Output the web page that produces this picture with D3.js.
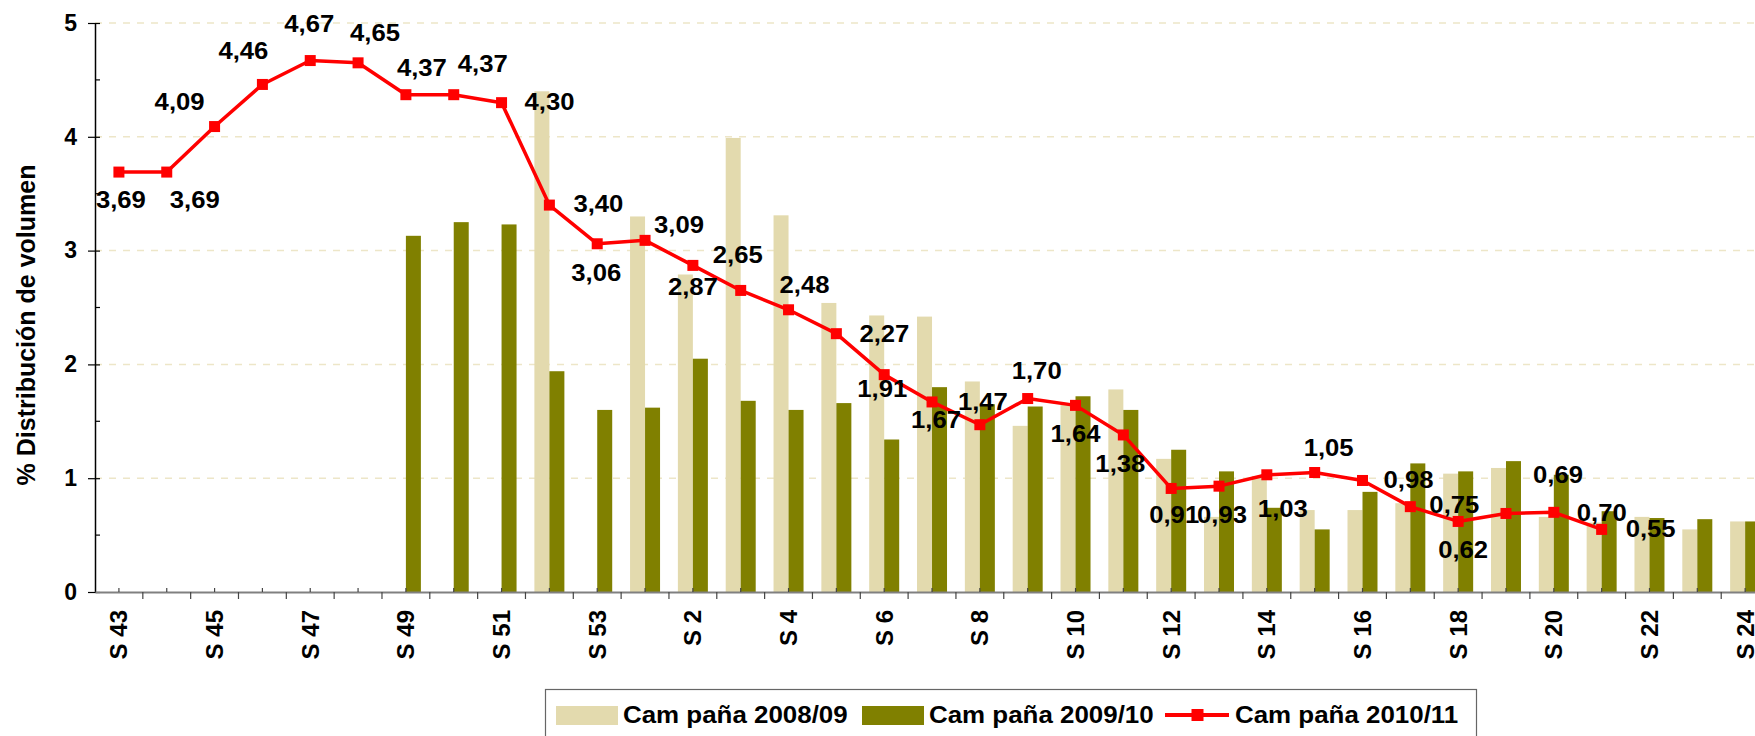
<!DOCTYPE html>
<meta charset="utf-8">
<div id="area"></div>

<script src="https://d3js.org/d3.v7.min.js"></script>

<style>
  body {
    background: #fff;
    margin: 0;
  }
  svg {
    display: block;
    font-family: "Liberation Sans", Arial, sans-serif;
    font-weight: bold;
  }
</style>

<script>
// weeks on the category axis (campaign runs S 43 -> S 24)
var weeks = ["S 43", "S 44", "S 45", "S 46", "S 47", "S 48", "S 49", "S 50", "S 51", "S 52", "S 53",
             "S 1", "S 2", "S 3", "S 4", "S 5", "S 6", "S 7", "S 8", "S 9", "S 10", "S 11", "S 12",
             "S 13", "S 14", "S 15", "S 16", "S 17", "S 18", "S 19", "S 20", "S 21", "S 22", "S 23", "S 24"];

var seriesNames = ["Cam paña 2008/09", "Cam paña 2009/10", "Cam paña 2010/11"];

// % volume per week, one value per entry in weeks (null = no data)
var c0809 = [null, null, null, null, null, null, null, null, null, 4.40, null,
             3.30, 2.79, 3.99, 3.31, 2.54, 2.43, 2.42, 1.85, 1.46, 1.65, 1.78, 1.17,
             0.66, 1.02, 0.72, 0.72, 0.78, 1.04, 1.09, 0.66, 0.61, 0.66, 0.55, 0.62];

var c0910 = [null, null, null, null, null, null, 3.13, 3.25, 3.23, 1.94, 1.60,
             1.62, 2.05, 1.68, 1.60, 1.66, 1.34, 1.80, 1.65, 1.63, 1.72, 1.60, 1.25,
             1.06, 0.74, 0.55, 0.88, 1.13, 1.06, 1.15, 1.03, 0.71, 0.65, 0.64, 0.62];

var c1011 = [3.69, 3.69, 4.09, 4.46, 4.67, 4.65, 4.37, 4.37, 4.30, 3.40, 3.06,
             3.09, 2.87, 2.65, 2.48, 2.27, 1.91, 1.67, 1.47, 1.70, 1.64, 1.38, 0.91,
             0.93, 1.03, 1.05, 0.98, 0.75, 0.62, 0.69, 0.70, 0.55, null, null, null];

var yTicks = [0, 1, 2, 3, 4, 5];

// where each 2010/11 data label sits relative to its marker
var labelOffsets = [[2, 27], [28, 27], [-35, -25], [-19, -34], [-1, -37], [17, -30], [16, -27], [29, -31],
                    [48, -1], [49, -2], [-1, 29], [34, -16], [0, 21], [-3, -36], [16, -25], [48, 0],
                    [-2, 14], [4, 17], [3, -23], [9, -28], [0, 28], [-3, 28], [3, 26], [3, 28],
                    [16, 34], [14, -25], [46, -1], [44, -2], [5, 28], [52, -39], [48, 0], [49, -1]];

var colors = ["#e3daae", "#808000", "#ff0000"];

var width = 1755, height = 736;
var left = 95, band = 47.83;
var stretch = 1.07; // the original text is drawn a little wide

var svg = d3.select("#area")
  .append("svg")
    .attr("width", width)
    .attr("height", height);

var x = d3.scaleBand()
  .domain(weeks)
  .range([left, left + band * weeks.length]);

var bw = x.bandwidth();

var xs = d3.scaleBand()
  .domain(["a", "b"])
  .range([bw / 2 - 15, bw / 2 + 15]);

var y = d3.scaleLinear().domain([0, 5]).range([592, 23]);

var fmt = d3.formatLocale({decimal: ",", thousands: ".", grouping: [3], currency: ["", ""]}).format(".2f");

// gridlines
svg.append("g")
  .selectAll("line")
  .data(yTicks.slice(1))
  .enter()
  .append("line")
    .attr("x1", left)
    .attr("x2", x.range()[1])
    .attr("y1", function(d) { return y(d); })
    .attr("y2", function(d) { return y(d); })
    .attr("stroke", "#ede6c8")
    .attr("stroke-width", 1.5)
    .attr("stroke-dasharray", "7,7");

// bars
var barData = [];
weeks.forEach(function(w, i) {
  if (c0809[i] != null) barData.push({week: w, k: "a", v: c0809[i]});
  if (c0910[i] != null) barData.push({week: w, k: "b", v: c0910[i]});
});

svg.append("g")
  .selectAll("rect")
  .data(barData)
  .enter()
  .append("rect")
    .attr("x", function(d) { return x(d.week) + xs(d.k); })
    .attr("y", function(d) { return y(d.v); })
    .attr("width", xs.bandwidth())
    .attr("height", function(d) { return y(0) - y(d.v); })
    .attr("fill", function(d) { return d.k == "a" ? colors[0] : colors[1]; });

// Y axis
var yAxis = svg.append("g")
  .attr("transform", "translate(" + left + ",0)")
  .call(d3.axisLeft(y).tickValues(yTicks).tickSize(7).tickSizeOuter(0).tickPadding(11).tickFormat(d3.format("d")));
yAxis.select(".domain").attr("stroke", "#000").attr("stroke-width", 1.5);
yAxis.selectAll(".tick line").attr("x1", 5).attr("stroke", "#000").attr("stroke-width", 1.2);
yAxis.selectAll(".tick text").style("font-size", "23px").attr("fill", "#000");
yAxis.selectAll(".minor")
  .data(d3.range(0.5, 5, 1))
  .enter()
  .append("line")
    .attr("x1", 0).attr("x2", 5)
    .attr("y1", function(d) { return y(d); })
    .attr("y2", function(d) { return y(d); })
    .attr("stroke", "#000")
    .attr("stroke-width", 1.2);

// X axis
var xAxis = svg.append("g")
  .attr("transform", "translate(0," + y(0) + ")")
  .call(d3.axisBottom(x).tickSize(-4).tickSizeOuter(0)
    .tickFormat(function(d, i) { return i % 2 == 0 ? d : ""; }));
xAxis.select(".domain").attr("stroke", "#808080").attr("stroke-width", 2.2);
xAxis.selectAll(".tick line").attr("stroke", "#444").attr("stroke-width", 1.2);
xAxis.selectAll(".tick text")
  .attr("transform", "rotate(-90)")
  .attr("x", -18)
  .attr("y", 0)
  .attr("dy", "0.35em")
  .style("text-anchor", "end")
  .style("font-size", "24px")
  .attr("fill", "#000");
xAxis.selectAll(".bound")
  .data(weeks.slice(1))
  .enter()
  .append("line")
    .attr("x1", function(d) { return x(d); })
    .attr("x2", function(d) { return x(d); })
    .attr("y1", 0).attr("y2", 7)
    .attr("stroke", "#444")
    .attr("stroke-width", 1.2);

// 2010/11 line
var pts = [];
c1011.forEach(function(v, i) { if (v != null) pts.push({week: weeks[i], v: v, i: i}); });

var line = d3.line()
  .x(function(d) { return x(d.week) + bw / 2; })
  .y(function(d) { return y(d.v); });

svg.append("path")
  .datum(pts)
  .attr("d", line)
  .attr("fill", "none")
  .attr("stroke", colors[2])
  .attr("stroke-width", 3.5)
  .attr("stroke-linejoin", "round");

svg.append("g")
  .selectAll("rect")
  .data(pts)
  .enter()
  .append("rect")
    .attr("x", function(d) { return x(d.week) + bw / 2 - 5.5; })
    .attr("y", function(d) { return y(d.v) - 5.5; })
    .attr("width", 11)
    .attr("height", 11)
    .attr("fill", colors[2]);

svg.append("g")
  .selectAll("text")
  .data(pts)
  .enter()
  .append("text")
    .attr("transform", function(d) {
      var tx = x(d.week) + bw / 2 + labelOffsets[d.i][0];
      var ty = y(d.v) + labelOffsets[d.i][1];
      return "translate(" + tx + "," + ty + ") scale(" + stretch + ",1)";
    })
    .attr("dy", "0.36em")
    .attr("text-anchor", "middle")
    .style("font-size", "24px")
    .text(function(d) { return fmt(d.v); });

// y title
svg.append("text")
  .attr("transform", "translate(26,325) rotate(-90)")
  .attr("dy", "0.35em")
  .attr("text-anchor", "middle")
  .style("font-size", "25px")
  .text("% Distribución de volumen");

// legend
var legend = svg.append("g");
legend.append("rect")
  .attr("x", 545.5).attr("y", 689.5)
  .attr("width", 931).attr("height", 70)
  .attr("fill", "#fff")
  .attr("stroke", "#666")
  .attr("stroke-width", 1.2);

var legendX = [556, 862, 1165];
var items = legend.selectAll(".item")
  .data(seriesNames)
  .enter()
  .append("g")
    .attr("transform", function(d, i) { return "translate(" + legendX[i] + ",0)"; });

items.filter(function(d, i) { return i < 2; })
  .append("rect")
    .attr("x", 0).attr("y", 706)
    .attr("width", 62).attr("height", 19)
    .attr("fill", function(d, i) { return colors[i]; });

var lineItem = items.filter(function(d, i) { return i == 2; });
lineItem.append("line")
  .attr("x1", 0).attr("x2", 64)
  .attr("y1", 715).attr("y2", 715)
  .attr("stroke", colors[2]).attr("stroke-width", 4);
lineItem.append("rect")
  .attr("x", 26.5).attr("y", 709)
  .attr("width", 12).attr("height", 12)
  .attr("fill", colors[2]);

items.append("text")
  .attr("transform", function(d, i) { return "translate(" + (i == 2 ? 70 : 67) + ",723) scale(1.08,1)"; })
  .style("font-size", "24px")
  .text(function(d) { return d; });
</script>
